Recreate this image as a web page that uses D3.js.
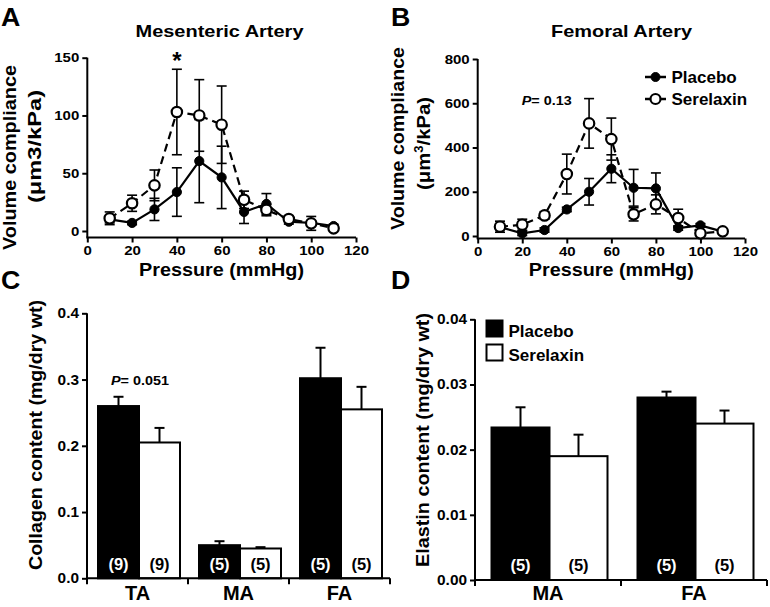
<!DOCTYPE html>
<html>
<head>
<meta charset="utf-8">
<script src="https://cdn.jsdelivr.net/npm/d3@7"></script>
<style>
  html, body { margin: 0; padding: 0; background: #fff; }
  svg { display: block; font-family: "Liberation Sans", Arial, sans-serif; }
</style>
</head>
<body>
<svg id="chart" width="770" height="607"></svg>
<script>
// ---------- DATA ----------
const pressure = [10, 20, 30, 40, 50, 60, 70, 80, 90, 100, 110];
const pressureTicks = [0, 20, 40, 60, 80, 100, 120];
const seriesNames = ["Placebo", "Serelaxin"];

// Panel A: Mesenteric artery volume compliance (µm3/kPa)
const mesPlacebo      = [10, 7, 18.7, 33.7, 60.5, 46.4, 16.5, 23.4, 8, 7, 4.3];
const mesPlaceboErr   = [3, 1.5, 9.6, 21, 36, 27, 10, 9, 2, 2, 1.5];
const mesSerelaxin    = [11, 24, 39.5, 103, 100, 92, 27, 18.2, 10.4, 6.6, 2.3];
const mesSerelaxinErr = [5.5, 7, 13.3, 37, 31, 33.5, 7.5, 5, 2.5, 6, 1.5];
const mesTicks = [0, 50, 100, 150];

// Panel B: Femoral artery volume compliance (µm3/kPa)
const femPlacebo      = [40, 12, 27, 120, 200, 304, 218, 215, 36, 48, 20];
const femPlaceboErr   = [10, 10, 10, 10, 60, 63, 83, 70, 10, 8, 5];
const femSerelaxin    = [42, 51, 93, 280, 509, 438, 98, 143, 81, 12, 21];
const femSerelaxinErr = [25, 25, 17, 90, 112, 95, 30, 43, 40, 5, 5];
const femTicks = [0, 200, 400, 600, 800];

// Panel C: Collagen content (mg/dry wt)
const collagenCats = ["TA", "MA", "FA"];
const collagenPlacebo      = [0.26, 0.05, 0.302];
const collagenPlaceboErr   = [0.014, 0.006, 0.046];
const collagenSerelaxin    = [0.205, 0.045, 0.255];
const collagenSerelaxinErr = [0.022, 0.002, 0.034];
const collagenN = [[9, 9], [5, 5], [5, 5]];
const collagenTicks = [0, 0.1, 0.2, 0.3, 0.4];

// Panel D: Elastin content (mg/dry wt)
const elastinCats = ["MA", "FA"];
const elastinPlacebo      = [0.0234, 0.028];
const elastinPlaceboErr   = [0.0031, 0.0009];
const elastinSerelaxin    = [0.0190, 0.0240];
const elastinSerelaxinErr = [0.0033, 0.0020];
const elastinN = [[5, 5], [5, 5]];
const elastinTicks = [0, 0.01, 0.02, 0.03, 0.04];

// ---------- HELPERS ----------
const svg = d3.select("#chart");
const AX = 2; // axis stroke width

function txt(g, str, x, y, o = {}) {
  const size = o.size || 12, sx = o.sx || 1;
  let tf = `translate(${x},${y}) scale(${sx},1)`;
  if (o.rotate) tf += " rotate(-90)";
  const t = g.append("text")
    .attr("transform", tf)
    .attr("font-size", size)
    .attr("font-weight", "bold")
    .attr("text-anchor", o.anchor || "start")
    .attr("fill", o.fill || "#000");
  if (o.len) t.attr("textLength", o.len).attr("lengthAdjust", "spacingAndGlyphs");
  if (o.parts) {
    o.parts.forEach(p => {
      const ts = t.append("tspan").text(p.t);
      if (p.italic) ts.attr("font-style", "italic");
      if (p.sup) ts.attr("baseline-shift", "super").attr("font-size", size * 0.65);
    });
  } else t.text(str);
  return t;
}

function styleAxis(g, fs, sx, left) {
  g.selectAll(".domain").remove();
  g.selectAll(".tick line").attr("stroke", "#000").attr("stroke-width", AX);
  g.selectAll(".tick text")
    .attr("font-size", fs).attr("font-weight", "bold").attr("fill", "#000")
    .attr("font-family", "Liberation Sans, Arial, sans-serif");
  if (left) {
    g.selectAll(".tick text").attr("x", -8 / sx).attr("transform", `scale(${sx},1)`);
  } else {
    g.selectAll(".tick text").attr("transform", `scale(${sx},1)`);
  }
}

function linePanel(cfg) {
  const g = svg.append("g");
  const x = d3.scaleLinear([0, 120], cfg.xRange);
  const y = d3.scaleLinear([0, cfg.yMax], cfg.yRange);
  const gx = g.append("g").attr("transform", `translate(0,${cfg.xAxisY})`)
    .call(d3.axisBottom(x).tickValues(pressureTicks).tickSize(5).tickSizeOuter(0).tickPadding(4));
  styleAxis(gx, 12.5, 1.2, false);
  const gy = g.append("g").attr("transform", `translate(${cfg.xRange[0]},0)`)
    .call(d3.axisLeft(y).tickValues(cfg.ticks).tickSize(5).tickSizeOuter(0).tickPadding(3));
  styleAxis(gy, 12.5, 1.2, true);
  g.append("line").attr("x1", cfg.xRange[0] - 1).attr("x2", cfg.xRange[1])
    .attr("y1", cfg.xAxisY).attr("y2", cfg.xAxisY).attr("stroke", "#000").attr("stroke-width", AX);
  g.append("line").attr("x1", cfg.xRange[0]).attr("x2", cfg.xRange[0])
    .attr("y1", y(cfg.yMax)).attr("y2", cfg.xAxisY).attr("stroke", "#000").attr("stroke-width", AX);

  const series = [
    { vals: cfg.placebo, err: cfg.placeboErr, dash: null, open: false },
    { vals: cfg.serelaxin, err: cfg.serelaxinErr, dash: "8,5", open: true }
  ];
  series.forEach(s => {
    const pts = pressure.map((p, i) => ({ p, v: s.vals[i], e: s.err[i] }));
    const eg = g.append("g").attr("stroke", "#000").attr("stroke-width", 1.6);
    pts.forEach(d => {
      const cx = x(d.p);
      eg.append("line").attr("x1", cx).attr("x2", cx).attr("y1", y(d.v + d.e)).attr("y2", y(Math.max(0, d.v - d.e)));
      eg.append("line").attr("x1", cx - 5).attr("x2", cx + 5).attr("y1", y(d.v + d.e)).attr("y2", y(d.v + d.e));
      eg.append("line").attr("x1", cx - 5).attr("x2", cx + 5).attr("y1", y(Math.max(0, d.v - d.e))).attr("y2", y(Math.max(0, d.v - d.e)));
    });
    g.append("path").datum(pts)
      .attr("d", d3.line().x(d => x(d.p)).y(d => y(d.v)))
      .attr("fill", "none").attr("stroke", "#000").attr("stroke-width", 2.2)
      .attr("stroke-dasharray", s.dash);
    g.selectAll(null).data(pts).join("circle")
      .attr("cx", d => x(d.p)).attr("cy", d => y(d.v))
      .attr("r", s.open ? 5.2 : 4.6)
      .attr("fill", s.open ? "#fff" : "#000")
      .attr("stroke", "#000").attr("stroke-width", s.open ? 2.2 : 1);
  });
  return { g, x, y };
}

function barPanel(cfg) {
  const g = svg.append("g");
  const x = d3.scaleBand(cfg.cats, cfg.xRange).paddingInner(0).paddingOuter(0);
  const xs = d3.scaleBand(seriesNames, cfg.subRange).padding(0);
  const y = d3.scaleLinear([0, cfg.yMax], cfg.yRange);
  const gy = g.append("g").attr("transform", `translate(${cfg.xRange[0]},0)`)
    .call(d3.axisLeft(y).tickValues(cfg.ticks).tickFormat(d3.format(cfg.fmt)).tickSize(5).tickSizeOuter(0).tickPadding(3));
  styleAxis(gy, 14, 1.1, true);
  g.append("line").attr("x1", cfg.xRange[0]).attr("x2", cfg.xRange[0])
    .attr("y1", y(cfg.yMax)).attr("y2", y(0) + 1).attr("stroke", "#000").attr("stroke-width", AX);

  const vals = [cfg.placebo, cfg.serelaxin], errs = [cfg.placeboErr, cfg.serelaxinErr];
  cfg.cats.forEach((c, i) => {
    seriesNames.forEach((s, j) => {
      const x0 = x(c) + xs(s), w = xs.bandwidth(), v = vals[j][i], e = errs[j][i];
      const cx = x0 + w / 2;
      g.append("line").attr("x1", cx).attr("x2", cx).attr("y1", y(v)).attr("y2", y(v + e))
        .attr("stroke", "#000").attr("stroke-width", 2);
      g.append("line").attr("x1", cx - 5).attr("x2", cx + 5).attr("y1", y(v + e)).attr("y2", y(v + e))
        .attr("stroke", "#000").attr("stroke-width", 2);
      g.append("rect").attr("x", x0).attr("y", y(v)).attr("width", w).attr("height", y(0) - y(v))
        .attr("fill", j === 0 ? "#000" : "#fff").attr("stroke", "#000").attr("stroke-width", 2);
      txt(g, `(${cfg.n[i][j]})`, cx, cfg.nY, { size: 16.5, anchor: "middle", fill: j === 0 ? "#fff" : "#000" });
    });
    txt(g, c, x(c) + x.bandwidth() / 2, cfg.catY, { size: 20, anchor: "middle" });
  });
  g.append("line").attr("x1", cfg.xRange[0]).attr("x2", cfg.xRange[1])
    .attr("y1", y(0)).attr("y2", y(0)).attr("stroke", "#000").attr("stroke-width", AX);
  const tickXs = cfg.cats.map(c => x(c)).concat([cfg.xRange[1]]);
  g.selectAll(null).data(tickXs).join("line")
    .attr("x1", d => d).attr("x2", d => d).attr("y1", y(0)).attr("y2", y(0) + 6)
    .attr("stroke", "#000").attr("stroke-width", AX);
  return { g, x, y };
}

// ---------- PANEL A ----------
const A = linePanel({
  xRange: [87.3, 356], yRange: [231, 57.7], yMax: 150, xAxisY: 237.5, ticks: mesTicks,
  placebo: mesPlacebo, placeboErr: mesPlaceboErr, serelaxin: mesSerelaxin, serelaxinErr: mesSerelaxinErr
});
txt(svg, "A", 1, 26, { size: 25, sx: 1.07 });
txt(svg, "Mesenteric Artery", 219.5, 36.5, { size: 16.5, anchor: "middle", len: 168 });
txt(svg, "*", A.x(40), 69, { size: 24, anchor: "middle" });
txt(svg, "Volume compliance", 15.5, 157.5, { size: 18.5, rotate: true, anchor: "middle", len: 185 });
txt(svg, "(μm3/kPa)", 41, 146.5, { size: 18.5, rotate: true, anchor: "middle", len: 113 });
txt(svg, "Pressure (mmHg)", 221.5, 276, { size: 19, anchor: "middle", len: 165 });

// ---------- PANEL B ----------
const B = linePanel({
  xRange: [477.7, 745], yRange: [236, 59], yMax: 800, xAxisY: 238.5, ticks: femTicks,
  placebo: femPlacebo, placeboErr: femPlaceboErr, serelaxin: femSerelaxin, serelaxinErr: femSerelaxinErr
});
txt(svg, "B", 391, 25.5, { size: 25, sx: 1.07 });
txt(svg, "Femoral Artery", 621.5, 36.5, { size: 16.5, anchor: "middle", len: 141 });
txt(svg, "", 521.7, 105, { size: 12.5, sx: 1.15, parts: [{ t: "P", italic: true }, { t: "= 0.13" }] });
txt(svg, "Volume compliance", 404, 138.5, { size: 18.5, rotate: true, anchor: "middle", len: 183 });
txt(svg, "", 430, 143.5, { size: 18.5, rotate: true, anchor: "middle", len: 93,
  parts: [{ t: "(μm" }, { t: "3", sup: true }, { t: "/kPa)" }] });
txt(svg, "Pressure (mmHg)", 611.3, 276, { size: 19, anchor: "middle", len: 165 });
[{ name: "Placebo", y: 77, open: false }, { name: "Serelaxin", y: 99, open: true }].forEach(l => {
  svg.append("line").attr("x1", 645).attr("x2", 666).attr("y1", l.y).attr("y2", l.y)
    .attr("stroke", "#000").attr("stroke-width", 2.5);
  svg.append("circle").attr("cx", 655.5).attr("cy", l.y).attr("r", l.open ? 5 : 4.5)
    .attr("fill", l.open ? "#fff" : "#000").attr("stroke", "#000").attr("stroke-width", l.open ? 2.2 : 1);
  txt(svg, l.name, 671.5, l.y + 5.5, { size: 17 });
});

// ---------- PANEL C ----------
barPanel({
  cats: collagenCats, xRange: [87, 390], subRange: [11, 93], yRange: [578.3, 313.3], yMax: 0.4,
  ticks: collagenTicks, fmt: ".1f", placebo: collagenPlacebo, placeboErr: collagenPlaceboErr,
  serelaxin: collagenSerelaxin, serelaxinErr: collagenSerelaxinErr, n: collagenN, nY: 570, catY: 600
});
txt(svg, "C", 1, 288.5, { size: 25, sx: 1.07 });
txt(svg, "Collagen content (mg/dry wt)", 42, 435, { size: 18.5, rotate: true, anchor: "middle", len: 270 });
txt(svg, "", 111, 385, { size: 12.5, sx: 1.15, parts: [{ t: "P", italic: true }, { t: "= 0.051" }] });

// ---------- PANEL D ----------
barPanel({
  cats: elastinCats, xRange: [475, 767], subRange: [16.5, 132.5], yRange: [580, 319.3], yMax: 0.04,
  ticks: elastinTicks, fmt: ".2f", placebo: elastinPlacebo, placeboErr: elastinPlaceboErr,
  serelaxin: elastinSerelaxin, serelaxinErr: elastinSerelaxinErr, n: elastinN, nY: 571, catY: 600
});
txt(svg, "D", 391, 288.5, { size: 25, sx: 1.07 });
txt(svg, "Elastin content (mg/dry wt)", 429, 440, { size: 18.5, rotate: true, anchor: "middle", len: 254 });
[{ name: "Placebo", y: 320.5, fill: "#000", ty: 336.5 }, { name: "Serelaxin", y: 344.5, fill: "#fff", ty: 361 }].forEach(l => {
  svg.append("rect").attr("x", 486.5).attr("y", l.y).attr("width", 16).attr("height", 16)
    .attr("fill", l.fill).attr("stroke", "#000").attr("stroke-width", 2);
  txt(svg, l.name, 508.5, l.ty, { size: 17 });
});
</script>
</body>
</html>
